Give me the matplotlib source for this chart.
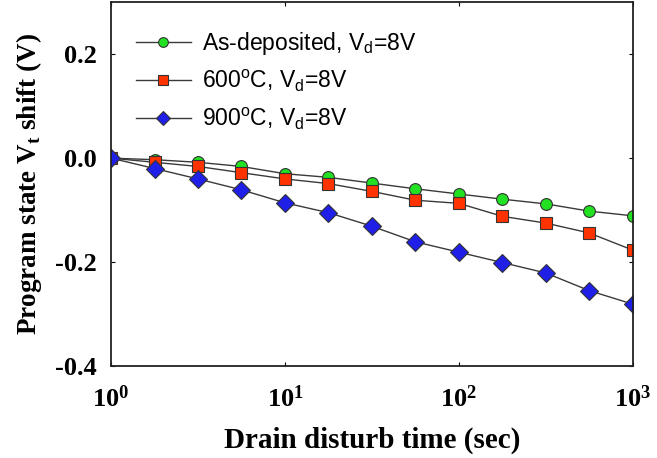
import matplotlib
matplotlib.use('Agg')
import matplotlib.pyplot as plt

# drain disturb time (sec) and Vt shift (V) per anneal condition
times = [1, 1.78, 3.16, 5.62, 10, 17.8, 31.6, 56.2, 100, 178, 316, 562, 1000]
as_dep = [0, -0.003, -0.008, -0.016, -0.030, -0.037, -0.048, -0.059, -0.069, -0.079, -0.088, -0.102, -0.111]
t600 = [0, -0.008, -0.016, -0.028, -0.040, -0.049, -0.064, -0.081, -0.087, -0.112, -0.125, -0.144, -0.177]
t900 = [0, -0.020, -0.040, -0.061, -0.086, -0.105, -0.131, -0.161, -0.181, -0.201, -0.221, -0.255, -0.281]

labels = ['As-deposited, V$_{\\rm d}$=8V',
          '600$^{\\rm o}$C, V$_{\\rm d}$=8V',
          '900$^{\\rm o}$C, V$_{\\rm d}$=8V']
x_ticks = [1, 10, 100, 1000]
x_ticklabels = ['$\\mathbf{10^{0}}$', '$\\mathbf{10^{1}}$', '$\\mathbf{10^{2}}$', '$\\mathbf{10^{3}}$']
y_ticks = [-0.4, -0.2, 0.0, 0.2]

plt.rcParams['mathtext.fontset'] = 'custom'
plt.rcParams['mathtext.rm'] = 'Liberation Sans'
plt.rcParams['mathtext.bf'] = 'Liberation Serif:bold'

fig = plt.figure(figsize=(6.57, 4.58), dpi=100)
ax = fig.add_axes([0.169, 0.201, 0.794, 0.794])

line_kw = dict(color='#3a3a3a', linewidth=1.0, markeredgecolor='#333333', markeredgewidth=0.8)
ax.plot(times, as_dep, marker='o', markersize=8.5, markerfacecolor='#22e022', label=labels[0], **line_kw)
ax.plot(times, t600, marker='s', markersize=8.5, markerfacecolor='#ff3300', label=labels[1], **line_kw)
ax.plot(times, t900, marker='D', markersize=9, markerfacecolor='#1f1fe8', label=labels[2], **line_kw)

ax.set_xscale('log')
ax.set_xlim(1, 1000)
ax.set_ylim(-0.4, 0.3)
ax.set_xticks(x_ticks)
ax.set_xticklabels(x_ticklabels, fontsize=19)
ax.minorticks_off()
ax.set_yticks(y_ticks)
ax.set_yticklabels(['%.1f' % v for v in y_ticks], family='Liberation Serif', fontweight='bold', fontsize=19)
ax.tick_params(direction='in', length=3, width=0.8, top=True, right=True)
ax.tick_params(axis='x', pad=15)
ax.tick_params(axis='y', pad=10)
for s in ax.spines.values():
    s.set_linewidth(1.3)
    s.set_color('#222222')

ax.set_xlabel('Drain disturb time (sec)', family='Liberation Serif', fontweight='bold', fontsize=21, labelpad=10)
ax.set_ylabel('Program state V$_\\mathbf{t}$ shift (V)', family='Liberation Serif', fontweight='bold', fontsize=19.5, labelpad=8)

leg = ax.legend(loc='upper left', frameon=False, prop={'family': 'Liberation Sans', 'size': 16.5},
                handlelength=2.4, handletextpad=0.5, labelspacing=0.5,
                bbox_to_anchor=(0.03, 0.95), borderaxespad=0)
for h in leg.legend_handles:
    h.set_markersize(7)

fig.savefig('out.png', dpi=100)
